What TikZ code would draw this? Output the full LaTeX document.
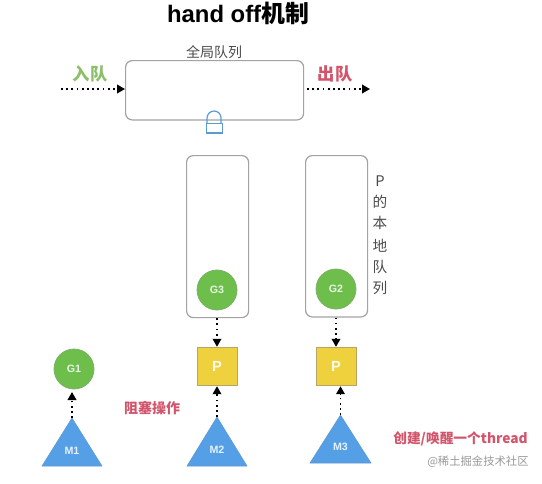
\documentclass[tikz,border=0pt]{standalone}
\usepackage{fontspec}
\setmainfont{Liberation Sans}
\newfontfamily\cjk{Noto Sans CJK SC}
\usetikzlibrary{arrows.meta}
\definecolor{gfill}{HTML}{6DBE4B}
\definecolor{gedge}{HTML}{7FB069}
\definecolor{pfill}{HTML}{EFD13D}
\definecolor{pedge}{HTML}{B5A566}
\definecolor{mfill}{HTML}{559FE6}
\definecolor{boxedge}{HTML}{A3A3A3}
\definecolor{redtxt}{HTML}{D2556B}
\definecolor{greentxt}{HTML}{8CBF6A}
\definecolor{lockc}{HTML}{5B9BD5}
\tikzset{
  x=0.75pt,y=-0.75pt,
  queuebox/.style={draw=boxedge,line width=0.9pt,rounded corners=5pt,fill=white,anchor=north west,inner sep=0pt},
  gnode/.style={circle,draw=gedge,line width=0.6pt,fill=gfill,minimum size=30pt,inner sep=0pt,text=white!85!gfill,font=\bfseries\fontsize{8}{9}\selectfont},
  pnode/.style={rectangle,draw=pedge,line width=0.6pt,fill=pfill,minimum width=30pt,minimum height=29pt,inner sep=0pt,text=white!90!pfill,font=\bfseries\fontsize{11}{12}\selectfont},
  mtri/.style={fill=mfill,draw=mfill!80!gray,line width=0.4pt},
  mlabel/.style={text=white!85!mfill,font=\bfseries\fontsize{8}{9}\selectfont,inner sep=0pt},
  flow/.style={line width=1.2pt,black,dash pattern=on 1.3pt off 2.6pt,-{Triangle[length=6pt,width=6.5pt]}},
  redlab/.style={text=redtxt,font=\cjk\bfseries\fontsize{10.5}{12}\selectfont,inner sep=0pt},
  vlab/.style={text=black!70,font=\cjk\fontsize{11}{12}\selectfont,inner sep=0pt},
}
\begin{document}
\begin{tikzpicture}
\useasboundingbox[fill=white] (0,0) rectangle (542,483);
\node[inner sep=0pt,font=\bfseries\fontsize{17.9}{20}\selectfont] (title) at (238,13) {hand off{\cjk 机制}};
\node[queuebox,minimum width=133.5pt,minimum height=44.5pt] (global) at (125,60) {};
\node[inner sep=0pt,text=black!70,font=\cjk\fontsize{10.5}{12}\selectfont] (globallab) at (214,52) {全局队列};
\node[inner sep=0pt,text=greentxt,font=\cjk\bfseries\fontsize{13}{15}\selectfont] (inlab) at (90,74) {入队};
\node[inner sep=0pt,text=redtxt,font=\cjk\bfseries\fontsize{13}{15}\selectfont] (outlab) at (335,74) {出队};
\coordinate (inL) at (61,89);
\coordinate (outR) at (370,89);
\coordinate (outL) at (307,89);
\draw[flow] (inL) -- (global.west |- inL);
\draw[flow] (outL) -- (outR);
% lock
\node[rectangle,draw=lockc,line width=0.9pt,fill=white,minimum width=12.5pt,minimum height=7pt,inner sep=0pt,anchor=north] (lock) at (214.5,123) {};
\draw[lockc,line width=0.9pt] (lock.north west)++(1.5,0) -- ++(0,-5) arc[start angle=180,end angle=360,radius=7] -- ++(0,5);
% local queues
\node[queuebox,minimum width=46.5pt,minimum height=121.5pt] (q3) at (186,155) {};
\node[queuebox,minimum width=46.5pt,minimum height=121pt] (q2) at (305,155) {};
\node[gnode] (g3) at (217,290) {G3};
\node[gnode] (g2) at (336,289) {G2};
\node[gnode] (g1) at (74,369) {G1};
\node[pnode] (p2) at (217,366.5) {P};
\node[pnode] (p3) at (336,366.5) {P};
\draw[flow] (g3 |- q3.south) -- (p2.north);
\draw[flow] (g2 |- q2.south) -- (p3.north);
% machines
\coordinate (m1top) at (72,418);
\coordinate (m2top) at (217,417);
\coordinate (m3top) at (340.5,415);
\draw[mtri] (m1top) -- (102,466) -- (42,466) -- cycle;
\draw[mtri] (m2top) -- (247,466) -- (187,466) -- cycle;
\draw[mtri] (m3top) -- (371,463) -- (310,463) -- cycle;
\node[mlabel] (m1) at (72,451) {M1};
\node[mlabel] (m2) at (217,450) {M2};
\node[mlabel] (m3) at (340.5,447) {M3};
\draw[flow] (m1top) -- (72,392);
\draw[flow] (m2top) -- (m2top |- p2.south);
\draw[flow] (m3top) -- (m3top |- p3.south);
% labels
\node[redlab] (block) at (152,408) {阻塞操作};
\node[redlab,anchor=west,font=\cjk\bfseries\fontsize{10.3}{12}\selectfont] (wake) at (393,439) {创建/唤醒一个thread};
\node[inner sep=0pt,anchor=west,text=black!40,font=\cjk\fontsize{8.5}{10}\selectfont] (mark) at (427,462) {@稀土掘金技术社区};
\node[vlab] (v1) at (380,181) {P};
\node[vlab] (v2) at (380,202) {的};
\node[vlab] (v3) at (380,223) {本};
\node[vlab] (v4) at (380,246) {地};
\node[vlab] (v5) at (380,267) {队};
\node[vlab] (v6) at (380,288) {列};
\end{tikzpicture}
\end{document}
